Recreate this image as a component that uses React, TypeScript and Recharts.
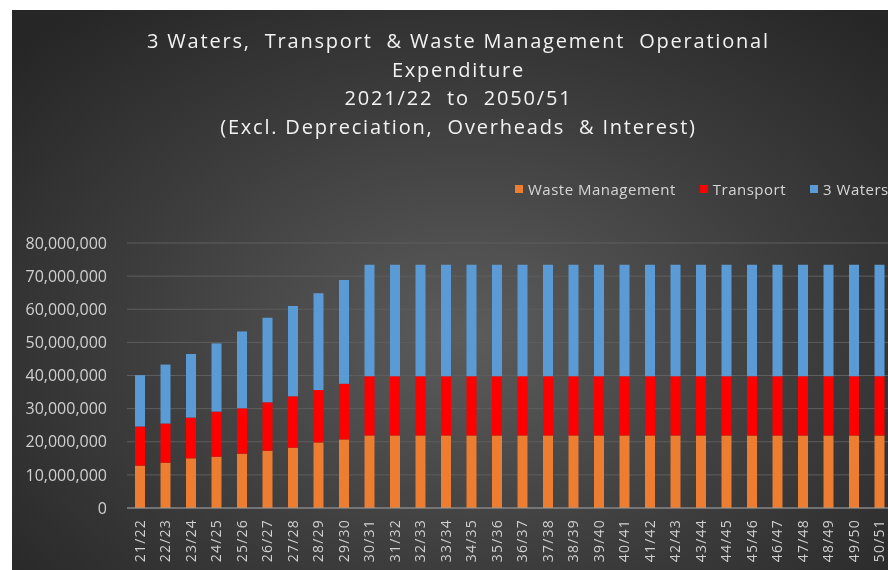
import { BarChart, Bar, XAxis, YAxis, CartesianGrid, Legend } from "recharts";

const years = [
  "21/22", "22/23", "23/24", "24/25", "25/26", "26/27", "27/28", "28/29", "29/30", "30/31",
  "31/32", "32/33", "33/34", "34/35", "35/36", "36/37", "37/38", "38/39", "39/40", "40/41",
  "41/42", "42/43", "43/44", "44/45", "45/46", "46/47", "47/48", "48/49", "49/50", "50/51",
];

const wasteManagement = [
  12800000, 13700000, 15000000, 15500000, 16400000, 17300000, 18200000, 19800000, 20700000, 21900000,
  21900000, 21900000, 21900000, 21900000, 21900000, 21900000, 21900000, 21900000, 21900000, 21900000,
  21900000, 21900000, 21900000, 21900000, 21900000, 21900000, 21900000, 21900000, 21900000, 21900000,
];

const transport = [
  11800000, 11800000, 12300000, 13600000, 13700000, 14600000, 15500000, 15800000, 16800000, 17900000,
  17900000, 17900000, 17900000, 17900000, 17900000, 17900000, 17900000, 17900000, 17900000, 17900000,
  17900000, 17900000, 17900000, 17900000, 17900000, 17900000, 17900000, 17900000, 17900000, 17900000,
];

const threeWaters = [
  15500000, 17800000, 19200000, 20600000, 23200000, 25500000, 27300000, 29200000, 31300000, 33600000,
  33600000, 33600000, 33600000, 33600000, 33600000, 33600000, 33600000, 33600000, 33600000, 33600000,
  33600000, 33600000, 33600000, 33600000, 33600000, 33600000, 33600000, 33600000, 33600000, 33600000,
];

const yTicks = [0, 10000000, 20000000, 30000000, 40000000, 50000000, 60000000, 70000000, 80000000];

const titleLines = [
  "3 Waters,  Transport  & Waste Management  Operational",
  "Expenditure",
  "2021/22  to  2050/51",
  "(Excl. Depreciation,  Overheads  & Interest)",
];

const series = [
  { key: "waste", name: "Waste Management", color: "#ED7D31" },
  { key: "transport", name: "Transport", color: "#FF0000" },
  { key: "waters", name: "3 Waters", color: "#5B9BD5" },
];

const data = years.map((year, i) => ({
  year,
  waste: wasteManagement[i],
  transport: transport[i],
  waters: threeWaters[i],
}));

const FONT = "'Open Sans', sans-serif";

const YearTick = (props: any) => {
  const { x, y, payload } = props;
  return (
    <g transform={`translate(${x},${y + 11}) rotate(-90)`}>
      <text
        x={0}
        y={0}
        dy="0.35em"
        textAnchor="end"
        fill="#d0d0d0"
        fontSize={14}
        letterSpacing={1.2}
        fontFamily={FONT}
      >
        {payload.value}
      </text>
    </g>
  );
};

const renderLegend = () => (
  <div style={{ display: "flex", fontFamily: FONT, fontSize: 15, color: "#d6d6d6", whiteSpace: "nowrap" }}>
    {series.map((s) => (
      <div key={s.key} style={{ display: "flex", alignItems: "center", marginRight: 24 }}>
        <span style={{ width: 8, height: 8, background: s.color, marginRight: 5, display: "inline-block" }} />
        <span style={{ letterSpacing: 0.5 }}>{s.name}</span>
      </div>
    ))}
  </div>
);

export default function App() {
  return (
    <div
      style={{
        position: "fixed",
        left: 12,
        top: 10,
        width: 876,
        height: 560,
        overflow: "hidden",
        background: "radial-gradient(ellipse 70% 75% at 52% 58%, #5c5c5c 0%, #3d3d3d 55%, #262626 100%)",
      }}
    >
      <div
        style={{
          position: "absolute",
          top: 17,
          left: 0,
          width: 893,
          textAlign: "center",
          fontFamily: FONT,
          fontSize: 20,
          lineHeight: "28.5px",
          letterSpacing: 1.8,
          color: "#f2f2f2",
          whiteSpace: "pre",
        }}
      >
        {titleLines.map((t) => (
          <div key={t}>{t}</div>
        ))}
      </div>
      <BarChart
        width={893}
        height={560}
        data={data}
        margin={{ top: 233, right: 13, left: 0, bottom: 0 }}
        barSize={10}
        style={{ position: "absolute", top: 0, left: 0 }}
      >
        <CartesianGrid horizontal vertical={false} stroke="#5e5e5e" />
        <XAxis
          dataKey="year"
          interval={0}
          height={62}
          tickSize={0}
          tickMargin={0}
          axisLine={{ stroke: "#9a9a9a" }}
          tickLine={false}
          tick={<YearTick />}
        />
        <YAxis
          width={115}
          domain={[0, 80000000]}
          ticks={yTicks}
          tickFormatter={(v) => Number(v).toLocaleString("en-US")}
          axisLine={false}
          tickLine={false}
          tickSize={0}
          tickMargin={20}
          tick={{ fill: "#d0d0d0", fontSize: 16, fontFamily: FONT }}
        />
        <Legend
          layout="horizontal"
          verticalAlign="middle"
          content={renderLegend}
          wrapperStyle={{ top: 169, left: 503, width: "auto" }}
        />
        {series.map((s) => (
          <Bar key={s.key} dataKey={s.key} name={s.name} stackId="a" fill={s.color} isAnimationActive={false} />
        ))}
      </BarChart>
    </div>
  );
}
